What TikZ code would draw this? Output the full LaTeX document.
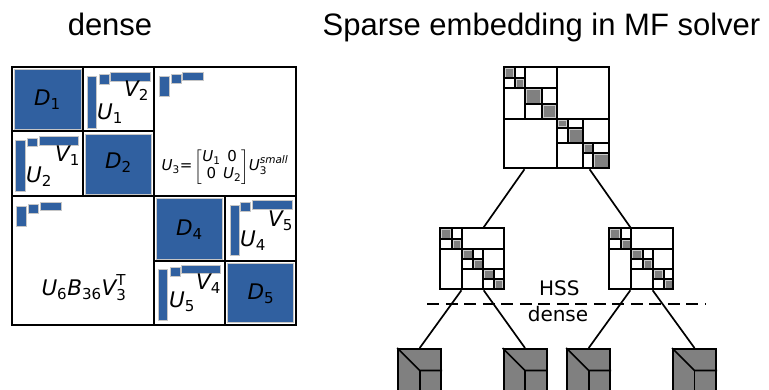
\documentclass[tikz,border=0pt]{standalone}
\usepackage{fontspec}
\usepackage{amsmath}
\setmainfont{DejaVu Sans}
\newfontfamily\titlefont{Liberation Sans}
\usetikzlibrary{calc}
\definecolor{dblue}{RGB}{48,96,160}
\definecolor{mgray}{RGB}{128,128,128}
\newcommand\mv[2]{$\text{\itshape #1}_{\text{#2}}$}
\newcommand\gc[4]{\filldraw[gsq] ([shift={(1.3,1.3)}]#1,#2) rectangle ([shift={(-1.3,-1.3)}]#3,#4);}
\newcommand\bb[4]{\filldraw[bsq] (#1,#2) rectangle (#3,#4);}
\tikzset{
  mline/.style={line width=2pt},
  tmat/.style={line width=2pt},
  tl/.style={line width=1.7pt},
  bsq/.style={fill=dblue, draw=gray!45, line width=0.5pt},
  gsq/.style={fill=mgray, draw=gray!40, line width=0.5pt},
  lbl/.style={font=\fontsize{21.5}{25}\selectfont, inner sep=0pt},
  leaf/.style={draw, fill=mgray, minimum size=43pt, line width=2pt, inner sep=0pt},
  title/.style={font=\titlefont\fontsize{31}{36}\selectfont, inner sep=0pt, anchor=base},
}
\newcommand\midmat{%
  \gc{0}{0}{11.7}{11}\gc{11.7}{11}{22}{21}
  \gc{22}{21}{33.3}{31}\gc{33.3}{31}{43.3}{41}
  \gc{43.3}{41}{54.3}{51}\gc{54.3}{51}{64}{61}
  \draw[tmat] (22,0)--(22,61) (0,21)--(64,21)
    (11.7,0)--(11.7,21) (0,11)--(22,11)
    (43.3,21)--(43.3,61) (22,41)--(64,41)
    (33.3,21)--(33.3,41) (22,31)--(43.3,31)
    (54.3,41)--(54.3,61) (43.3,51)--(64,51);
}
\begin{document}
\begin{tikzpicture}[x=1pt,y=-1pt]
\useasboundingbox (0,0) rectangle (769,390);
\clip (0,0) rectangle (769,390);
% titles
\node[title] (t1) at (110,36) {dense};
\node[title] (t2) at (541.5,36) {Sparse embedding in MF solver};

% ---------- dense matrix ----------
\bb{14.2}{69.5}{80.8}{129.5}
\bb{85.5}{134}{151.5}{194}
\bb{156}{198.5}{222.5}{259}
\bb{227.5}{263.3}{293.5}{322.7}
% icons
\bb{87.3}{76.7}{96.7}{128}\bb{99}{74}{109}{84}\bb{110.7}{72.7}{150}{81.7}
\bb{15.7}{140}{25}{191.7}\bb{27.3}{138.3}{37}{146.7}\bb{39}{136.7}{78.3}{145}
\bb{159}{76.7}{169}{96}\bb{171}{74.7}{181}{83.3}\bb{182.7}{72.3}{203}{80.7}
\bb{16.7}{206.7}{26.7}{226}\bb{28.7}{204}{38.7}{213}\bb{40.3}{202}{61}{210.7}
\bb{230}{205}{239}{255.7}\bb{240.7}{202.7}{250.7}{211.7}\bb{252.3}{200.7}{292.3}{209}
\bb{158.3}{269.3}{167.3}{320}\bb{170}{267.3}{180}{276}\bb{181.7}{265}{220.7}{273.3}
\node[draw, mline, minimum width=284pt, minimum height=258pt, inner sep=0pt] (dm) at (154,196) {};
\draw[mline] (154,67)--(154,325) (12,196)--(296,196)
  (82.7,67)--(82.7,196) (12,131)--(154,131)
  (225,196)--(225,325) (154,261)--(296,261);
% labels
\node[lbl] (ld1) at (47.5,100) {\mv{D}{1}};
\node[lbl] (ld2) at (118.5,163) {\mv{D}{2}};
\node[lbl] (ld4) at (189.5,230) {\mv{D}{4}};
\node[lbl] (ld5) at (261,294) {\mv{D}{5}};
\node[lbl] (lv2) at (136.5,91) {\mv{V}{2}};
\node[lbl] (lu1) at (110,114) {\mv{U}{1}};
\node[lbl] (lv1) at (67.5,156) {\mv{V}{1}};
\node[lbl] (lu2) at (39,177) {\mv{U}{2}};
\node[lbl] (lv5) at (280.5,221) {\mv{V}{5}};
\node[lbl] (lu4) at (253,241) {\mv{U}{4}};
\node[lbl] (lv4) at (208.5,284) {\mv{V}{4}};
\node[lbl] (lu5) at (182,302) {\mv{U}{5}};
\node[lbl] (lb) at (84,288) {$\text{\itshape U}_{\text{6}}\text{\itshape B}_{\text{36}}\text{\itshape V}^{\text{T}}_{\text{3}}$};
\node[inner sep=0pt, font=\fontsize{15}{17}\selectfont] (lu3) at (225,167)
  {$\text{\itshape U}_{\text{3}}\text{=}\left[\begin{tabular}{@{}c@{\,}c@{}}\textit{U}\textsubscript{1} & 0\\ 0 & \textit{U}\textsubscript{2}\end{tabular}\right]\!\text{\itshape U}^{\text{\itshape small}}_{\text{3}}$};

% ---------- tree ----------
% root
\gc{504}{67.3}{515}{78.3}\gc{515}{78.3}{525}{88.3}
\gc{525}{88.3}{541.7}{104.3}\gc{541.7}{104.3}{556.7}{119}
\gc{556.7}{119}{567.7}{127.7}\gc{567.7}{127.7}{583.3}{143.3}
\gc{583.3}{143.3}{593.3}{153.3}\gc{593.3}{153.3}{609.3}{168.3}
\draw[tmat] (556.7,67.3)--(556.7,168.3) (504,119)--(609.3,119)
  (525,67.3)--(525,119) (504,88.3)--(556.7,88.3)
  (515,67.3)--(515,88.3) (504,78.3)--(525,78.3)
  (541.7,88.3)--(541.7,119) (525,104.3)--(556.7,104.3)
  (583.3,119)--(583.3,168.3) (556.7,143.3)--(609.3,143.3)
  (567.7,119)--(567.7,143.3) (556.7,127.7)--(583.3,127.7)
  (593.3,143.3)--(593.3,168.3) (583.3,153.3)--(609.3,153.3);
\node[draw, tmat, minimum width=105.3pt, minimum height=101pt, inner sep=0pt] (root) at (556.65,117.8) {};
% mid level
\begin{scope}[shift={(440,228.3)}]\midmat\end{scope}
\begin{scope}[shift={(609.3,228.3)}]\midmat\end{scope}
\node[draw, tmat, minimum width=64pt, minimum height=61pt, inner sep=0pt] (midL) at (472,258.8) {};
\node[draw, tmat, minimum width=64pt, minimum height=61pt, inner sep=0pt] (midR) at (641.3,258.8) {};
% leaves
\node[leaf] (l1) at (419.7,370.5) {};
\node[leaf] (l2) at (525,370.5) {};
\node[leaf] (l3) at (588.7,370.5) {};
\node[leaf] (l4) at (694.5,370.5) {};
\foreach \l in {l1,l2,l3,l4}{
  \draw[tl] (\l.north west) -- (\l.center) -- (\l.east |- \l.center);
  \draw[tl] (\l.center) -- (\l.south);
}
% dashed separator
\coordinate (dsA) at (427.3,304.3);
\coordinate (dsB) at (705,304.3);
\draw[line width=2pt, dash pattern=on 12pt off 6.5pt] (dsA) -- (dsB);
\node[font=\fontsize{20}{24}\selectfont, inner sep=0pt, anchor=base] (hss) at (559.3,296) {HSS};
\node[font=\fontsize{20}{24}\selectfont, inner sep=0pt, anchor=base] (dn) at (558,322) {dense};
% connectors
\draw[tl] ($(root.south west)!0.2!(root.south east)$) -- ($(midL.north west)!0.677!(midL.north east)$);
\draw[tl] ($(root.south west)!0.807!(root.south east)$) -- ($(midR.north west)!0.334!(midR.north east)$);
\draw[tl] ($(midL.south west)!0.34!(midL.south east)$) -- (l1.north);
\draw[tl] ($(midL.south west)!0.677!(midL.south east)$) -- (l2.north);
\draw[tl] ($(midR.south west)!0.334!(midR.south east)$) -- (l3.north);
\draw[tl] ($(midR.south west)!0.672!(midR.south east)$) -- (l4.north);
\end{tikzpicture}
\end{document}
